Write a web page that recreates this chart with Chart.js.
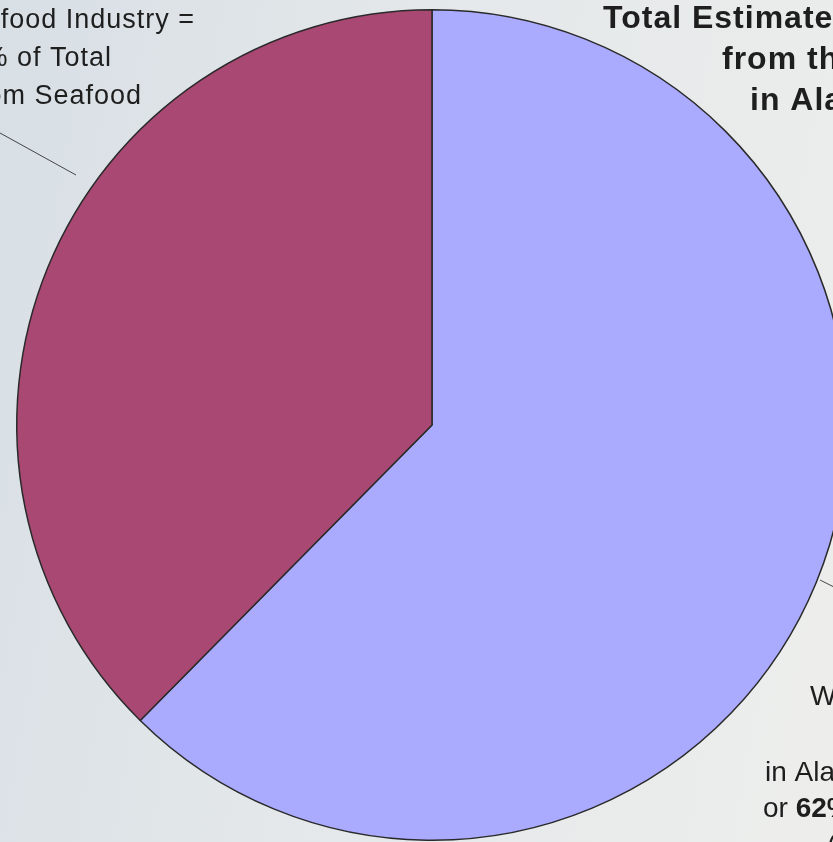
<!DOCTYPE html>
<html lang="en">
<head>
  <meta charset="UTF-8">
  <title>Seafood Industry Share</title>
  <script src="https://cdn.jsdelivr.net/npm/chart.js"></script>
  <style>
    html, body {
      margin: 0;
      padding: 0;
      width: 833px;
      height: 842px;
      overflow: hidden;
      background: linear-gradient(100deg, #d8dfe5 0%, #e4e8ea 45%, #edeeec 100%);
    }
    #wrap {
      position: absolute;
      left: 0;
      top: 0;
      width: 880px;
      height: 880px;
    }
  </style>
</head>
<body>
  <div id="wrap"><canvas id="pieChart"></canvas></div>

  <script>
    // slice data (clockwise from 12 o'clock)
    const labels = ['Rest of Total', 'Seafood Industry'];
    const shares = [62.4, 37.6];
    const colors = ['#aaaaff', '#a84873'];

    // callout texts (cropped at the window edges in the reference)
    const leftNote = ['Seafood Industry =', '38% of Total', 'Income from Seafood'];
    const topNote = ['Total Estimated Income', 'from the Seafood', 'in Alaska'];
    const bottomNote = ['Whole Industry', '', 'in Alaska', 'or ', '('];

    // draws the callout text and leader lines
    const calloutPlugin = {
      id: 'callouts',
      afterDraw(chart) {
        const c = chart.ctx;
        c.save();
        c.fillStyle = '#1e1e1e';
        c.textBaseline = 'alphabetic';
        c.letterSpacing = '1px';

        // left note, right aligned
        c.font = '27px "Liberation Sans", Arial, sans-serif';
        c.textAlign = 'right';
        c.fillText(leftNote[0], 195, 28);
        c.fillText(leftNote[1], 112, 66);
        c.fillText(leftNote[2], 142, 104);

        // top right bold title
        c.font = 'bold 32px "Liberation Sans", Arial, sans-serif';
        c.textAlign = 'left';
        c.fillText(topNote[0], 603, 28);
        c.fillText(topNote[1], 722, 69);
        c.fillText(topNote[2], 750, 110);

        // bottom right note
        c.letterSpacing = '0px';
        c.font = '28px "Liberation Sans", Arial, sans-serif';
        c.fillText(bottomNote[0], 810, 705);
        c.fillText(bottomNote[2], 765, 781);
        c.fillText(bottomNote[3], 763, 817);
        const w = c.measureText(bottomNote[3]).width;
        c.font = 'bold 28px "Liberation Sans", Arial, sans-serif';
        c.fillText('62%', 763 + w, 817);
        c.font = '28px "Liberation Sans", Arial, sans-serif';
        c.fillText(bottomNote[4], 827, 854);

        // leader lines
        c.strokeStyle = '#444';
        c.lineWidth = 1;
        c.beginPath();
        c.moveTo(0, 133);
        c.lineTo(76, 175);
        c.moveTo(820, 580);
        c.lineTo(840, 590);
        c.stroke();
        c.restore();
      }
    };

    const ctx = document.getElementById('pieChart').getContext('2d');
    new Chart(ctx, {
      type: 'pie',
      data: {
        labels: labels,
        datasets: [{
          data: shares,
          backgroundColor: colors,
          borderColor: '#2a2a2a',
          borderWidth: 1.5
        }]
      },
      options: {
        responsive: true,
        maintainAspectRatio: false,
        animation: false,
        layout: {
          padding: { left: 16, top: 9, right: 32, bottom: 39 }
        },
        plugins: {
          legend: { display: false },
          tooltip: { enabled: false }
        }
      },
      plugins: [calloutPlugin]
    });
  </script>
</body>
</html>
